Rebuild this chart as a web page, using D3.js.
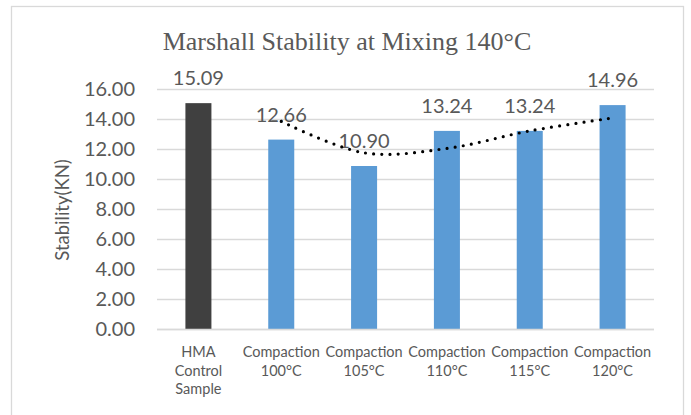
<!DOCTYPE html>
<html>
<head>
<meta charset="utf-8">
<script src="https://cdn.jsdelivr.net/npm/d3@7"></script>
<style>
  html, body { margin: 0; padding: 0; background: #fff; }
  svg { display: block; }
</style>
</head>
<body>
<svg id="chart" width="691" height="415"></svg>
<script>
// Marshall stability (kN) per sample
const categories = [
  ["HMA", "Control", "Sample"],
  ["Compaction", "100°C"],
  ["Compaction", "105°C"],
  ["Compaction", "110°C"],
  ["Compaction", "115°C"],
  ["Compaction", "120°C"]
];
const stability = [15.09, 12.66, 10.90, 13.24, 13.24, 14.96];
const valueLabels = ["15.09", "12.66", "10.90", "13.24", "13.24", "14.96"];
const yTicks = [0, 2, 4, 6, 8, 10, 12, 14, 16];
const titleText = "Marshall Stability at Mixing 140°C";
const yTitle = "Stability(KN)";

const svg = d3.select("#chart");
const textColor = "#595959";
const gridColor = "#d9d9d9";
const numFont = "Lato, 'Open Sans', sans-serif";

// chart frame
svg.append("rect")
  .attr("x", 11.5).attr("y", 6.5)
  .attr("width", 672).attr("height", 430)
  .attr("fill", "#fff")
  .attr("stroke", gridColor).attr("stroke-width", 1.3);

const plot = { left: 157, right: 654, top: 89.5, bottom: 329.5 };
const ids = categories.map((_, i) => i);

const x = d3.scaleBand()
  .domain(ids)
  .range([plot.left, plot.right])
  .paddingInner(0.686)
  .paddingOuter(0.343);

const y = d3.scaleLinear()
  .domain([0, 16])
  .range([plot.bottom, plot.top]);

// gridlines
svg.append("g")
  .selectAll("line")
  .data(yTicks)
  .join("line")
  .attr("x1", plot.left).attr("x2", plot.right)
  .attr("y1", d => y(d)).attr("y2", d => y(d))
  .attr("stroke", gridColor).attr("stroke-width", 1.3);

// y axis labels
const yAxis = svg.append("g")
  .attr("transform", `translate(${plot.left - 22},0)`)
  .call(d3.axisLeft(y).tickValues(yTicks).tickFormat(d3.format(".2f")).tickSize(0).tickPadding(0));
yAxis.select(".domain").remove();
yAxis.selectAll("text")
  .attr("fill", textColor)
  .style("font-family", numFont)
  .style("font-size", "20px");

// y axis title
svg.append("text")
  .attr("transform", `translate(62,210) rotate(-90)`)
  .attr("text-anchor", "middle")
  .attr("dominant-baseline", "central")
  .attr("fill", textColor)
  .style("font-family", numFont)
  .style("font-size", "18.5px")
  .text(yTitle);

// bars
svg.append("g")
  .selectAll("rect")
  .data(stability)
  .join("rect")
  .attr("x", (d, i) => x(i))
  .attr("width", x.bandwidth())
  .attr("y", d => y(d))
  .attr("height", d => y(0) - y(d))
  .attr("fill", (d, i) => i === 0 ? "#404040" : "#5b9bd5");

// value labels
svg.append("g")
  .selectAll("text")
  .data(stability)
  .join("text")
  .attr("x", (d, i) => x(i) + x.bandwidth() / 2)
  .attr("y", d => y(d) - 18)
  .attr("text-anchor", "middle")
  .attr("fill", textColor)
  .style("font-family", numFont)
  .style("font-size", "20px")
  .text((d, i) => valueLabels[i]);

// two-period moving average trendline
const trend = stability.slice(1).map((v, k) => ({ i: k + 1, v: (stability[k] + v) / 2 }));
svg.append("path")
  .datum(trend)
  .attr("fill", "none")
  .attr("stroke", "#000")
  .attr("stroke-width", 3.2)
  .attr("stroke-linecap", "round")
  .attr("stroke-dasharray", "0,8.2")
  .attr("d", d3.line()
    .x(d => x(d.i) + x.bandwidth() / 2)
    .y(d => y(d.v))
    .curve(d3.curveCatmullRom.alpha(0.5)));

// category axis line
svg.append("line")
  .attr("x1", plot.left).attr("x2", plot.right)
  .attr("y1", y(0)).attr("y2", y(0))
  .attr("stroke", gridColor).attr("stroke-width", 1.3);

// category labels
const catG = svg.append("g");
categories.forEach((lines, i) => {
  const t = catG.append("text")
    .attr("x", x(i) + x.bandwidth() / 2)
    .attr("y", 357)
    .attr("text-anchor", "middle")
    .attr("fill", textColor)
    .style("font-family", numFont)
    .style("font-size", "14.5px");
  lines.forEach((ln, j) => {
    t.append("tspan")
      .attr("x", x(i) + x.bandwidth() / 2)
      .attr("y", 357 + j * 18.5)
      .text(ln);
  });
});

// title, centred over the chart area
svg.append("text")
  .attr("x", 347)
  .attr("y", 50)
  .attr("text-anchor", "middle")
  .attr("fill", textColor)
  .style("font-family", "'Liberation Serif', 'Times New Roman', serif")
  .style("font-size", "26px")
  .text(titleText);
</script>
</body>
</html>
